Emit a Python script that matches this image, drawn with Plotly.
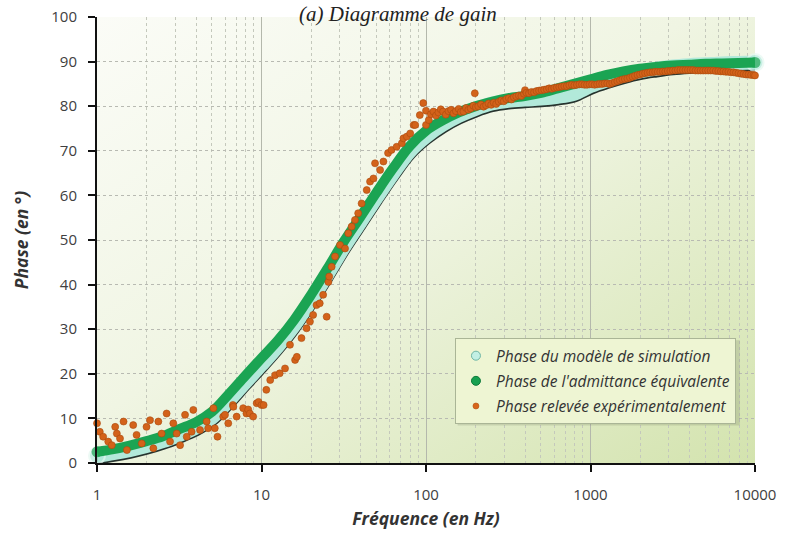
import base64
import plotly.graph_objects as go

# ---------------- data ----------------
freq_model = [1, 1.26, 1.58, 2, 2.51, 3.16, 3.98, 5.01, 6.31, 7.94, 10, 12.6, 15.8, 20, 25.1,
              31.6, 39.8, 50.1, 63.1, 79.4, 100, 126, 158, 200, 251, 316, 398, 501, 631, 794,
              1000, 1259, 1585, 1995, 2512, 3162, 3981, 5012, 6310, 7943, 10000]

phase_sim = [1.6, 2.2, 2.9, 3.8, 4.9, 6.3, 7.9, 10.2, 13.9, 18.0, 22.0, 26.2, 30.8, 36.4, 42.2,
             48.3, 53.9, 59.5, 64.9, 69.8, 73.2, 75.8, 77.8, 79.4, 80.6, 81.2, 81.5, 81.7, 82.1, 82.8,
             84.5, 85.8, 86.9, 87.8, 88.4, 88.9, 89.2, 89.4, 89.6, 89.7, 89.8]

phase_adm = [2.5, 3.1, 3.9, 4.9, 6.0, 7.6, 9.1, 11.5, 15.4, 19.5, 23.5, 27.5, 32.1, 37.7, 43.5,
             49.6, 55.1, 60.7, 66.1, 71.0, 74.5, 76.8, 78.6, 80.0, 81.0, 81.8, 82.3, 83.0, 84.0, 85.0,
             86.0, 87.0, 87.8, 88.4, 88.8, 89.1, 89.3, 89.5, 89.6, 89.7, 89.8]

freq_exp = [1.0, 1.04, 1.09, 1.17, 1.23, 1.29, 1.32, 1.38, 1.45, 1.52, 1.66, 1.74, 1.87, 2.0, 2.1,
            2.2, 2.36, 2.47, 2.65, 2.78, 2.91, 3.05, 3.2, 3.43, 3.51, 3.76, 3.85, 4.23, 4.64, 4.74,
            5.1, 5.2, 5.4, 5.85, 6.0, 6.28, 6.7, 6.74, 7.06, 7.74, 8.1, 8.3, 8.5, 8.9, 9.35,
            9.6, 10.0, 10.3, 10.7, 11.3, 12.1, 12.9, 13.9, 14.9, 16.0, 16.4, 17.5, 18.8, 19.7, 20.6,
            21.6, 22.6, 23.7, 24.9, 25.5, 25.8, 26.7, 28.0, 30.0, 32.2, 33.7, 35.3, 37.0, 38.7, 40.6,
            43.6, 45.7, 47.9, 49.0, 52.6, 55.1, 58.8, 61.7, 66.3, 71.3, 72.9, 76.5, 80.2, 84.1, 86.0,
            91.7, 96.2, 100, 100, 104, 107, 111, 115, 119, 123, 127, 132, 137, 142, 147,
            152, 158, 163, 169, 175, 181, 187, 194, 198, 201, 208, 216, 224, 232, 240,
            249, 258, 267, 277, 287, 297, 308, 319, 330, 342, 354, 367, 380, 394, 400,
            408, 423, 438, 454, 470, 487, 505, 523, 542, 561, 581, 602, 624, 646, 669,
            693, 718, 744, 771, 798, 827, 857, 888, 920, 953, 987, 1023, 1060, 1098, 1137,
            1178, 1220, 1264, 1310, 1357, 1406, 1456, 1509, 1563, 1619, 1677, 1738, 1800, 1865, 1932,
            2001, 2073, 2148, 2225, 2305, 2388, 2474, 2563, 2655, 2751, 2850, 2952, 3058, 3168, 3282,
            3400, 3522, 3649, 3780, 3916, 4057, 4203, 4354, 4511, 4673, 4841, 5015, 5196, 5383, 5576,
            5777, 5985, 6200, 6423, 6654, 6893, 7141, 7398, 7664, 7940, 8225, 8521, 8828, 9145, 9474,
            9815, 10000]

phase_exp = [8.9, 7.0, 5.9, 4.8, 4.0, 8.1, 6.6, 5.5, 9.3, 2.9, 8.5, 6.3, 4.4, 8.1, 9.6,
             3.3, 9.3, 6.6, 11.1, 4.8, 8.9, 6.6, 4.0, 10.8, 5.9, 7.0, 11.9, 7.4, 9.3, 7.8,
             12.3, 7.8, 5.9, 10.4, 10.8, 8.9, 13.0, 12.6, 10.4, 12.3, 11.1, 12.0, 11.1, 10.4, 13.4,
             13.7, 13.0, 13.0, 16.4, 18.6, 19.7, 20.1, 21.2, 26.5, 23.1, 23.8, 28.0, 30.2, 31.7, 33.2,
             35.4, 35.8, 37.7, 32.8, 40.6, 41.8, 44.0, 46.3, 48.9, 48.1, 51.5, 53.0, 54.5, 56.0, 58.2,
             61.2, 63.1, 63.8, 67.2, 65.7, 67.6, 69.5, 70.2, 70.9, 71.7, 72.8, 73.2, 73.9, 75.8, 75.8,
             78.0, 80.7, 75.8, 79.0, 76.9, 78.2, 78.8, 77.9, 78.6, 79.3, 78.8, 78.1, 78.9, 79.2, 78.4,
             78.9, 79.4, 78.7, 78.8, 79.6, 79.2, 79.5, 80.1, 82.9, 79.8, 80.0, 80.4, 79.9, 80.2, 80.6,
             80.3, 80.8, 80.5, 81.0, 81.3, 81.1, 81.6, 81.8, 81.5, 82.0, 82.2, 82.4, 82.3, 82.8, 83.6,
             83.0, 82.9, 83.2, 83.1, 83.4, 83.5, 83.6, 83.7, 83.8, 84.0, 83.9, 84.1, 84.2, 84.3, 84.4,
             84.5, 84.5, 84.7, 84.8, 84.7, 84.8, 84.9, 84.9, 84.8, 84.8, 84.9, 84.9, 84.8, 84.9, 85.0,
             85.0, 85.1, 85.1, 85.0, 85.2, 85.4, 85.6, 85.8, 86.0, 86.1, 86.2, 86.4, 86.6, 86.8, 87.0,
             87.1, 87.3, 87.4, 87.5, 87.6, 87.6, 87.7, 87.7, 87.7, 87.8, 87.8, 87.9, 87.9, 88.0, 88.0,
             88.1, 88.1, 88.1, 88.1, 88.1, 88.1, 88.1, 88.0, 88.0, 88.0, 88.0, 88.0, 88.0, 88.0, 88.0,
             87.9, 87.9, 87.8, 87.8, 87.7, 87.7, 87.6, 87.6, 87.5, 87.4, 87.3, 87.2, 87.1, 87.1, 87.0,
             87.0, 86.9]

x_tickvals = [1, 10, 100, 1000, 10000]
x_ticktext = ["1", "10", "100", "1000", "10000"]
y_tickvals = [0, 10, 20, 30, 40, 50, 60, 70, 80, 90, 100]

names = ["Phase du modèle de simulation",
         "Phase de l'admittance équivalente",
         "Phase relevée expérimentalement"]

# ---------------- figure ----------------
fig = go.Figure()

n = len(freq_model)
end_sizes = [16] + [0] * (n - 2) + [17]

# simulation model: dark lower edge + light cyan band
fig.add_trace(go.Scatter(x=freq_model, y=[v - 0.5 for v in phase_sim], mode="lines",
                         line=dict(color="#26332e", width=13, shape="spline"),
                         showlegend=False, hoverinfo="skip"))
fig.add_trace(go.Scatter(x=freq_model, y=phase_sim, mode="lines+markers",
                         line=dict(color="#b2e9da", width=14, shape="spline"),
                         marker=dict(size=end_sizes, color="#b2e9da",
                                     line=dict(color="#e6f8f2", width=2)),
                         cliponaxis=False, showlegend=False, name=names[0]))
# equivalent admittance: green band
fig.add_trace(go.Scatter(x=freq_model, y=phase_adm, mode="lines+markers",
                         line=dict(color="#1ba453", width=10, shape="spline"),
                         marker=dict(size=[11] + [0] * (n - 2) + [11], color="#1ba453",
                                     line=dict(width=0)),
                         cliponaxis=False, showlegend=False, name=names[1]))
# experimental points
fig.add_trace(go.Scatter(x=freq_exp, y=phase_exp, mode="markers",
                         marker=dict(size=7, color="#d3621a",
                                     line=dict(width=0.6, color="#a94a0e")),
                         cliponaxis=False, showlegend=False, name=names[2]))

# legend entries
leg_markers = [dict(size=9, color="#c2efe4", line=dict(color="#6fb5a4", width=1)),
               dict(size=9, color="#17a050", line=dict(color="#0d7a3a", width=1)),
               dict(size=6, color="#d7651b", line=dict(color="#b44f10", width=0.6))]
for i, nm in enumerate(names):
    fig.add_trace(go.Scatter(x=[None], y=[None], mode="markers", marker=leg_markers[i],
                             name=nm, legendgroup=f"g{i}", showlegend=True))

# gradient background of plot area
svg = ("<svg xmlns='http://www.w3.org/2000/svg' width='658' height='446' preserveAspectRatio='none'>"
       "<defs><linearGradient id='g' x1='0' y1='0' x2='1' y2='1'>"
       "<stop offset='0' stop-color='#fbfcf7'/>"
       "<stop offset='0.45' stop-color='#f0f5e3'/>"
       "<stop offset='1' stop-color='#d3e3ae'/>"
       "</linearGradient></defs>"
       "<rect width='658' height='446' fill='url(#g)'/></svg>")
src = "data:image/svg+xml;base64," + base64.b64encode(svg.encode()).decode()

FONT = "'Open Sans', 'Liberation Sans', sans-serif"
tick_font = dict(family=FONT, size=15, color="#404040")
title_font = dict(family=FONT, size=17.5, color="#333333", weight="bold", style="italic")

fig.update_layout(
    width=785, height=547,
    margin=dict(l=97, r=30, t=17, b=84),
    paper_bgcolor="white",
    plot_bgcolor="rgba(0,0,0,0)",
    images=[dict(source=src, xref="paper", yref="paper", x=0, y=1, sizex=1, sizey=1,
                 xanchor="left", yanchor="top", sizing="stretch", layer="below")],
    shapes=[dict(type="rect", xref="paper", yref="paper",
                 x0=0.548, x1=0.977, y0=0.084, y1=0.275,
                 fillcolor="rgba(110,120,90,0.22)", line=dict(width=0), layer="above")],
    xaxis=dict(type="log", range=[0, 4], tickvals=x_tickvals, ticktext=x_ticktext,
               automargin=False,
               showline=True, linecolor="#111111", linewidth=2,
               ticks="outside", ticklen=7, tickwidth=2, tickcolor="#111111",
               ticklabelstandoff=10,
               showgrid=True, gridcolor="#b4b8ac", gridwidth=1,
               minor=dict(dtick="D1", showgrid=True, gridcolor="#c4c8bc", griddash="dot",
                          gridwidth=1, ticks=""),
               tickfont=tick_font,
               title=dict(text="Fréquence (en Hz)", font=title_font, standoff=10),
               zeroline=False),
    yaxis=dict(range=[0, 100], tickvals=y_tickvals,
               automargin=False,
               showline=True, linecolor="#111111", linewidth=2,
               ticks="outside", ticklen=7, tickwidth=2, tickcolor="#111111",
               ticklabelstandoff=8,
               showgrid=True, gridcolor="#b8bab2", griddash="dot", gridwidth=1,
               tickfont=tick_font,
               title=dict(text="Phase (en °)", font=title_font, standoff=18),
               zeroline=False),
    legend=dict(x=0.544, y=0.28, xanchor="left", yanchor="top",
                bgcolor="#eef5d3", bordercolor="#aab596", borderwidth=1,
                font=dict(family=FONT, size=15.5, color="#333333", style="italic"),
                tracegroupgap=2, traceorder="grouped", itemwidth=30),
    annotations=[dict(text="(a) Diagramme de gain", xref="paper", yref="paper",
                      x=0.457, y=1.0, yshift=17, xanchor="center", yanchor="top",
                      showarrow=False,
                      font=dict(family="'Liberation Serif', serif", size=21, color="#222222",
                                style="italic"))],
)

fig.write_html("out.html", config={"displayModeBar": False},
               post_script="document.body.style.margin='0';")
